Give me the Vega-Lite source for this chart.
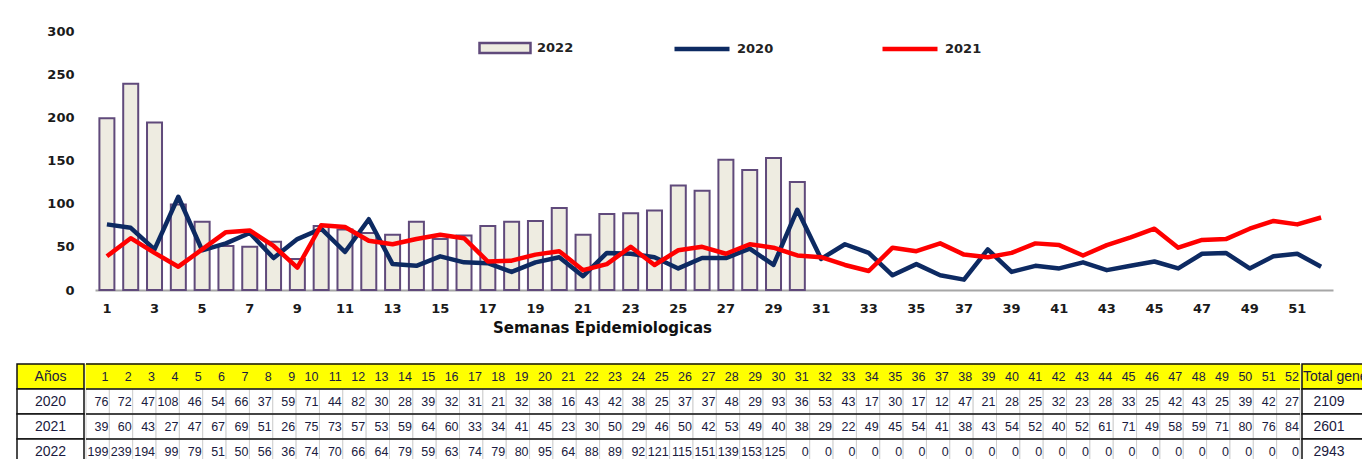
{
  "$schema": "https://vega.github.io/schema/vega-lite/v6.json",
  "padding": {"left": 16, "top": 19, "right": 0, "bottom": 0},
  "background": "white",
  "spacing": 28,
  "resolve": {"scale": {"fill": "independent", "stroke": "independent"}, "legend": {"fill": "independent", "stroke": "independent"}},
  "config": {"view": {"stroke": null}, "font": "DejaVu Sans"},
  "datasets": {
    "weeks": [
      {"week": 1, "2020": 76, "2021": 39, "2022": 199},
      {"week": 2, "2020": 72, "2021": 60, "2022": 239},
      {"week": 3, "2020": 47, "2021": 43, "2022": 194},
      {"week": 4, "2020": 108, "2021": 27, "2022": 99},
      {"week": 5, "2020": 46, "2021": 47, "2022": 79},
      {"week": 6, "2020": 54, "2021": 67, "2022": 51},
      {"week": 7, "2020": 66, "2021": 69, "2022": 50},
      {"week": 8, "2020": 37, "2021": 51, "2022": 56},
      {"week": 9, "2020": 59, "2021": 26, "2022": 36},
      {"week": 10, "2020": 71, "2021": 75, "2022": 74},
      {"week": 11, "2020": 44, "2021": 73, "2022": 70},
      {"week": 12, "2020": 82, "2021": 57, "2022": 66},
      {"week": 13, "2020": 30, "2021": 53, "2022": 64},
      {"week": 14, "2020": 28, "2021": 59, "2022": 79},
      {"week": 15, "2020": 39, "2021": 64, "2022": 59},
      {"week": 16, "2020": 32, "2021": 60, "2022": 63},
      {"week": 17, "2020": 31, "2021": 33, "2022": 74},
      {"week": 18, "2020": 21, "2021": 34, "2022": 79},
      {"week": 19, "2020": 32, "2021": 41, "2022": 80},
      {"week": 20, "2020": 38, "2021": 45, "2022": 95},
      {"week": 21, "2020": 16, "2021": 23, "2022": 64},
      {"week": 22, "2020": 43, "2021": 30, "2022": 88},
      {"week": 23, "2020": 42, "2021": 50, "2022": 89},
      {"week": 24, "2020": 38, "2021": 29, "2022": 92},
      {"week": 25, "2020": 25, "2021": 46, "2022": 121},
      {"week": 26, "2020": 37, "2021": 50, "2022": 115},
      {"week": 27, "2020": 37, "2021": 42, "2022": 151},
      {"week": 28, "2020": 48, "2021": 53, "2022": 139},
      {"week": 29, "2020": 29, "2021": 49, "2022": 153},
      {"week": 30, "2020": 93, "2021": 40, "2022": 125},
      {"week": 31, "2020": 36, "2021": 38, "2022": 0},
      {"week": 32, "2020": 53, "2021": 29, "2022": 0},
      {"week": 33, "2020": 43, "2021": 22, "2022": 0},
      {"week": 34, "2020": 17, "2021": 49, "2022": 0},
      {"week": 35, "2020": 30, "2021": 45, "2022": 0},
      {"week": 36, "2020": 17, "2021": 54, "2022": 0},
      {"week": 37, "2020": 12, "2021": 41, "2022": 0},
      {"week": 38, "2020": 47, "2021": 38, "2022": 0},
      {"week": 39, "2020": 21, "2021": 43, "2022": 0},
      {"week": 40, "2020": 28, "2021": 54, "2022": 0},
      {"week": 41, "2020": 25, "2021": 52, "2022": 0},
      {"week": 42, "2020": 32, "2021": 40, "2022": 0},
      {"week": 43, "2020": 23, "2021": 52, "2022": 0},
      {"week": 44, "2020": 28, "2021": 61, "2022": 0},
      {"week": 45, "2020": 33, "2021": 71, "2022": 0},
      {"week": 46, "2020": 25, "2021": 49, "2022": 0},
      {"week": 47, "2020": 42, "2021": 58, "2022": 0},
      {"week": 48, "2020": 43, "2021": 59, "2022": 0},
      {"week": 49, "2020": 25, "2021": 71, "2022": 0},
      {"week": 50, "2020": 39, "2021": 80, "2022": 0},
      {"week": 51, "2020": 42, "2021": 76, "2022": 0},
      {"week": 52, "2020": 27, "2021": 84, "2022": 0}
    ],
    "rows": [
      {"row": "week", "label": "Años"},
      {"row": "2020", "label": "2020"},
      {"row": "2021", "label": "2021"},
      {"row": "2022", "label": "2022"}
    ],
    "totals": [
      {"row": "week", "text": "Total general"},
      {"row": "2020", "text": "2109"},
      {"row": "2021", "text": "2601"},
      {"row": "2022", "text": "2943"}
    ]
  },
  "vconcat": [
    {
      "spacing": 0,
      "hconcat": [
        {
          "width": 29,
          "height": 10,
          "data": {"values": [{"blank": 0}]},
          "mark": {"type": "point", "opacity": 0}
        },
        {
          "width": 1238,
          "height": 259,
          "data": {"name": "weeks"},
          "encoding": {
            "x": {
              "field": "week", "type": "ordinal",
              "scale": {"paddingInner": 0.37},
              "axis": {
                "values": [1,3,5,7,9,11,13,15,17,19,21,23,25,27,29,31,33,35,37,39,41,43,45,47,49,51],
                "labelAngle": 0, "ticks": false, "domainColor": "#A6A6A6", "domainWidth": 2,
                "labelFont": "DejaVu Sans", "labelFontSize": 13, "labelFontWeight": "bold", "labelColor": "#1a1a1a",
                "labelPadding": 12,
                "title": "Semanas Epidemiologicas", "titleFont": "DejaVu Sans", "titleFontSize": 15,
                "titleFontWeight": "bold", "titleColor": "#111", "titleX": 507, "titleAlign": "center", "titlePadding": 5
              }
            }
          },
          "layer": [
            {
              "transform": [{"filter": "datum['2022'] > 0"}],
              "mark": {"type": "bar", "stroke": "#604A7B", "strokeWidth": 2},
              "encoding": {
                "y": {
                  "field": "2022", "type": "quantitative",
                  "scale": {"domain": [0, 300]},
                  "axis": {
                    "values": [0,50,100,150,200,250,300], "domain": false, "ticks": false, "grid": false,
                    "labelPadding": 21, "labelFont": "DejaVu Sans", "labelFontSize": 13, "labelFontWeight": "bold",
                    "labelColor": "#1a1a1a", "title": null
                  }
                },
                "fill": {
                  "datum": "2022",
                  "scale": {"domain": ["2022"], "range": ["#EEECE1"]},
                  "legend": {
                    "orient": "none", "legendX": 461, "legendY": -10, "direction": "horizontal", "title": null,
                    "symbolType": "M-1,-0.2H1V0.2H-1Z", "symbolSize": 2601, "symbolStrokeColor": "#604A7B",
                    "symbolStrokeWidth": 2.5, "labelFont": "DejaVu Sans", "labelFontSize": 13, "labelFontWeight": "bold",
                    "labelColor": "#222", "labelOffset": 5, "padding": 0
                  }
                }
              }
            },
            {
              "transform": [{"fold": ["2020", "2021"], "as": ["serie", "value"]}],
              "mark": {"type": "line", "strokeWidth": 4.5, "strokeJoin": "round"},
              "encoding": {
                "y": {"field": "value", "type": "quantitative", "scale": {"domain": [0, 300]}},
                "stroke": {
                  "field": "serie", "type": "nominal",
                  "scale": {"domain": ["2020", "2021"], "range": ["#0D2A62", "#FF0000"]},
                  "legend": {
                    "orient": "none", "legendX": 655, "legendY": -12, "direction": "horizontal", "title": null,
                    "symbolType": "stroke", "symbolSize": 3025, "symbolStrokeWidth": 4.5, "columnPadding": 99,
                    "labelFont": "DejaVu Sans", "labelFontSize": 13, "labelFontWeight": "bold",
                    "labelColor": "#222", "labelOffset": 5, "padding": 0
                  }
                }
              }
            }
          ]
        }
      ]
    },
    {
      "spacing": 0,
      "hconcat": [
        {
          "width": 67,
          "height": 100,
          "data": {"name": "rows"},
          "encoding": {
            "y": {"field": "row", "type": "nominal", "scale": {"domain": ["week","2020","2021","2022"], "paddingInner": 0, "paddingOuter": 0}, "axis": null}
          },
          "layer": [
            {
              "mark": {"type": "rect", "stroke": "#111", "strokeWidth": 1.5},
              "encoding": {
                "fill": {"field": "row", "type": "nominal", "scale": {"domain": ["week","2020","2021","2022"], "range": ["#FFFF00","#FFFFFF","#FFFFFF","#FFFFFF"]}, "legend": null}
              }
            },
            {
              "mark": {"type": "text", "font": "Liberation Sans Narrow, Liberation Sans", "fontSize": 14, "color": "#1a1a40"},
              "encoding": {"text": {"field": "label"}}
            }
          ]
        },
        {
          "width": 1214,
          "height": 100,
          "layer": [
            {
              "data": {"name": "weeks"},
              "transform": [{"fold": ["week", "2020", "2021", "2022"], "as": ["row", "value"]}],
              "encoding": {
                "x": {"field": "week", "type": "ordinal", "scale": {"paddingInner": 0, "paddingOuter": 0}, "axis": null},
                "y": {"field": "row", "type": "nominal", "scale": {"domain": ["week","2020","2021","2022"], "paddingInner": 0, "paddingOuter": 0}, "axis": null}
              },
              "layer": [
                {
                  "mark": {"type": "rect", "strokeWidth": 1},
                  "encoding": {
                    "fill": {"field": "row", "type": "nominal", "scale": {"domain": ["week","2020","2021","2022"], "range": ["#FFFF00","#FFFFFF","#FFFFFF","#FFFFFF"]}, "legend": null},
                    "stroke": {"field": "row", "type": "nominal", "scale": {"domain": ["week","2020","2021","2022"], "range": ["#FFFF00","#CFCFCF","#CFCFCF","#CFCFCF"]}, "legend": null}
                  }
                },
                {
                  "mark": {"type": "text", "align": "right", "dx": -1, "font": "Liberation Sans Narrow, Liberation Sans", "fontSize": 12.5, "color": "#1a1a40"},
                  "encoding": {
                    "x": {"field": "week", "type": "ordinal", "bandPosition": 1},
                    "text": {"field": "value", "type": "quantitative"}
                  }
                }
              ]
            },
            {
              "data": {"name": "rows"},
              "mark": {"type": "rule", "stroke": "#111", "strokeWidth": 1.5},
              "encoding": {
                "y": {"field": "row", "type": "nominal", "bandPosition": 0, "scale": {"domain": ["week","2020","2021","2022"], "paddingInner": 0, "paddingOuter": 0}, "axis": null}
              }
            }
          ]
        },
        {
          "width": 70,
          "height": 100,
          "data": {"name": "totals"},
          "encoding": {
            "y": {"field": "row", "type": "nominal", "scale": {"domain": ["week","2020","2021","2022"], "paddingInner": 0, "paddingOuter": 0}, "axis": null}
          },
          "layer": [
            {
              "mark": {"type": "rect", "stroke": "#111", "strokeWidth": 1.5},
              "encoding": {
                "fill": {"field": "row", "type": "nominal", "scale": {"domain": ["week","2020","2021","2022"], "range": ["#FFFF00","#FFFFFF","#FFFFFF","#FFFFFF"]}, "legend": null}
              }
            },
            {
              "transform": [{"filter": "datum.row === 'week'"}],
              "mark": {"type": "text", "align": "left", "dx": -34, "font": "Liberation Sans Narrow, Liberation Sans", "fontSize": 14, "color": "#1a1a40"},
              "encoding": {"text": {"field": "text"}}
            },
            {
              "transform": [{"filter": "datum.row !== 'week'"}],
              "mark": {"type": "text", "dx": -8, "font": "Liberation Sans Narrow, Liberation Sans", "fontSize": 14, "color": "#1a1a40"},
              "encoding": {"text": {"field": "text"}}
            }
          ]
        }
      ]
    }
  ]
}
